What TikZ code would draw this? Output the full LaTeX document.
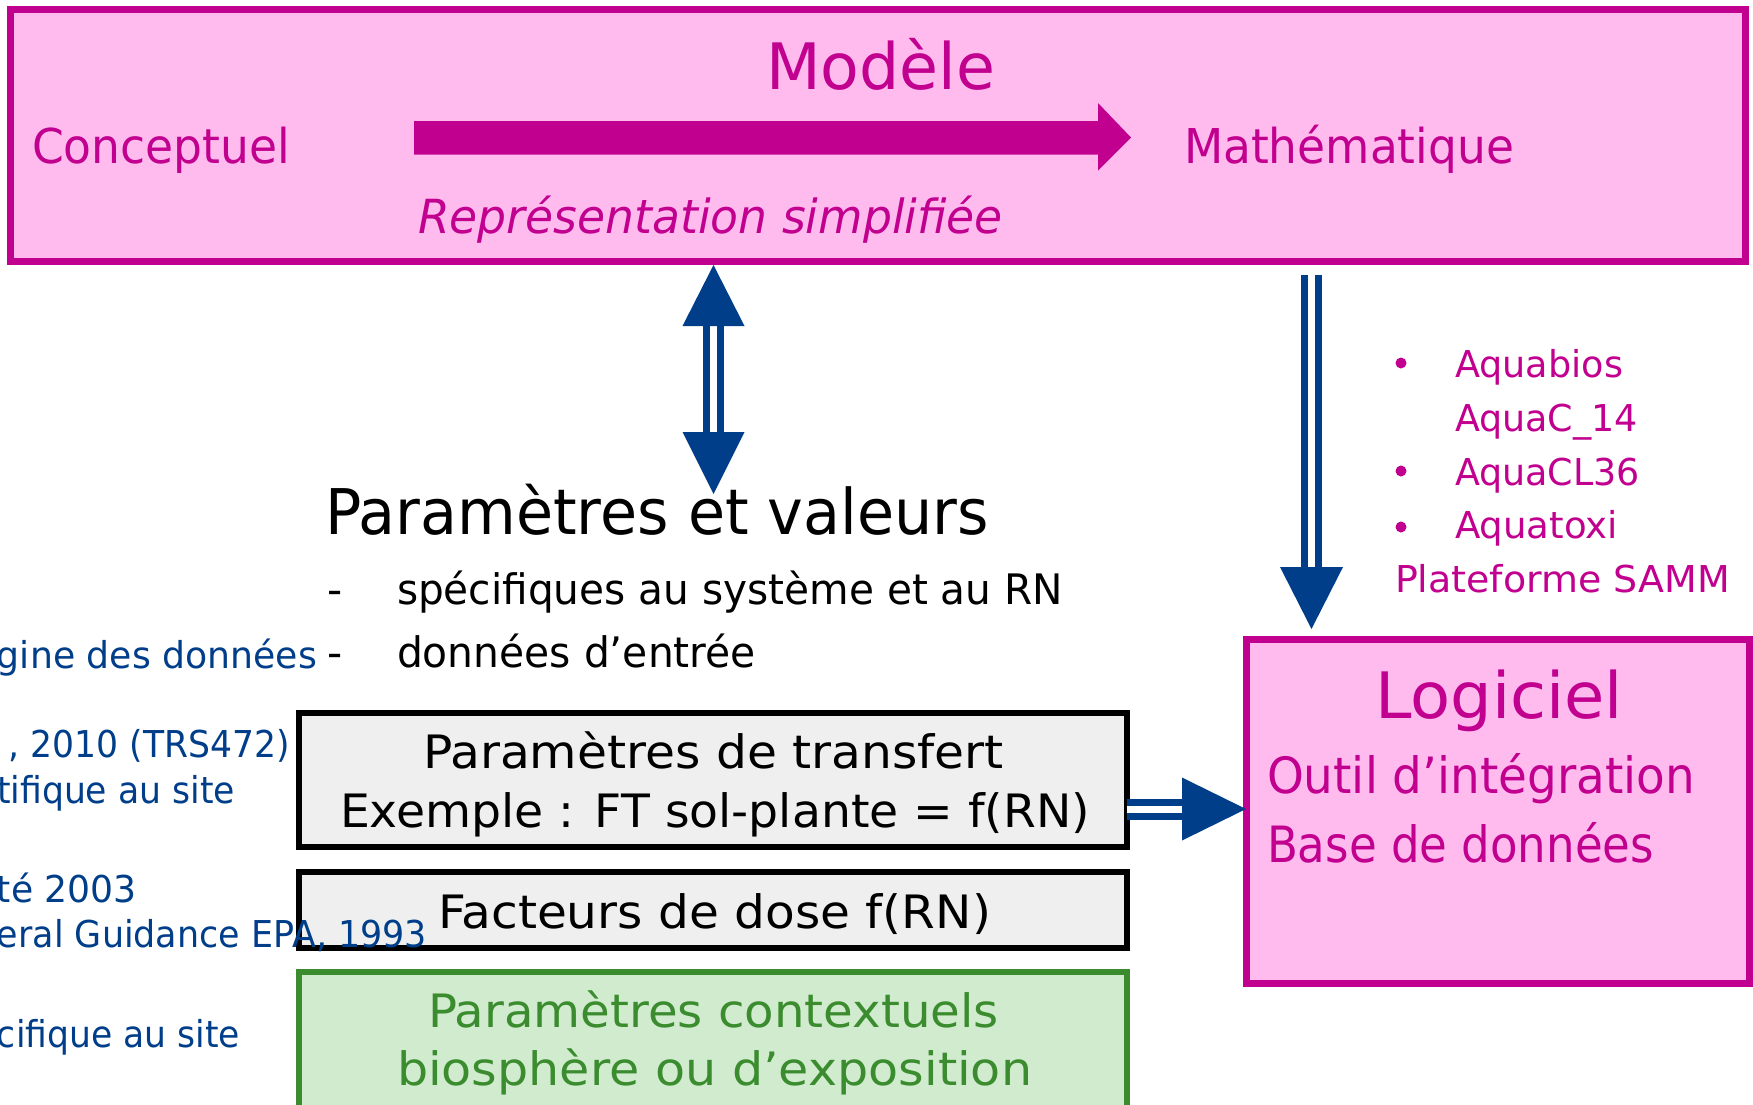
\documentclass[tikz,border=0pt]{standalone}
\usepackage{fontspec}
\setmainfont{DejaVu Sans}
\usepackage{graphicx}
\definecolor{mag}{RGB}{194,0,143}
\definecolor{pinkf}{RGB}{255,187,238}
\definecolor{navy}{RGB}{0,62,138}
\definecolor{grayf}{RGB}{239,239,239}
\definecolor{grn}{RGB}{58,140,46}
\definecolor{grnf}{RGB}{208,235,206}
\newcommand\fitt[3]{\resizebox{#1pt}{\height}{\fontsize{#2pt}{#2pt}\selectfont #3}}
\tikzset{
  txt/.style={inner sep=0pt, outer sep=0pt, anchor=base west},
  rtxt/.style={inner sep=0pt, outer sep=0pt, anchor=base east, text=navy},
  pinkbox/.style={draw=mag, fill=pinkf, line width=7pt, inner sep=0pt},
  graybox/.style={draw=black, fill=grayf, line width=6pt, inner sep=0pt},
  greenbox/.style={draw=grn, fill=grnf, line width=6pt, inner sep=0pt},
  dblshaft/.style={draw=navy, line width=7pt, double=white, double distance=7pt},
}
\begin{document}
\begin{tikzpicture}[x=1pt, y=-1pt]
\clip (0,0) rectangle (1753,1104);
\fill[white] (0,0) rectangle (1753,1104);

% boxes
\node[pinkbox, minimum width=1735pt, minimum height=252pt] (model) at (878,135.5) {};
\node[pinkbox, minimum width=503pt, minimum height=344pt] (logiciel) at (1498,811.5) {};
\node[graybox, minimum width=828pt, minimum height=134pt] (transfert) at (713,780) {};
\node[graybox, minimum width=828pt, minimum height=76pt] (facteurs) at (713,910) {};
\node[greenbox, minimum width=828pt, minimum height=158pt] (contexte) at (713,1051) {};

% top box texts
\node[txt, text=mag] (modele) at (766,89) {\fitt{229}{64}{Modèle}};
\node[txt, text=mag] (conc) at (32,163) {\fitt{258}{48}{Conceptuel}};
\node[txt, text=mag] (math) at (1184,163) {\fitt{330}{48}{Mathématique}};
\node[txt, text=mag] (repr) at (418,233) {\fitt{585}{47}{\itshape Représentation simplifiée}};
\coordinate (ma1) at (414,137.5);
\coordinate (ma2) at (1131,137.5);
\fill[mag] (ma1) ++(0,-16.5) -- ++(684,0) -- ++(0,-18) -- (ma2) -- ++(-33,33) -- ++(0,-16) -- ++(-684,0) -- cycle;

% parameters
\node[txt] (pv) at (325,534) {\fitt{664}{63}{Paramètres et valeurs}};
\node[txt] (d1) at (327,604) {\fontsize{42pt}{42pt}\selectfont -};
\node[txt] (l1) at (397,604) {\fitt{666}{42}{spécifiques au système et au RN}};
\node[txt] (d2) at (327,667) {\fontsize{42pt}{42pt}\selectfont -};
\node[txt] (l2) at (397,667) {\fitt{359}{42}{données d’entrée}};

% left blue texts (cut by the frame)
\node[rtxt] (o1) at (317,668) {\fitt{320}{37}{gine des données}};
\node[rtxt] (o2) at (290,757) {\fitt{281}{37}{, 2010 (TRS472)}};
\node[rtxt] (o3) at (235,803) {\fitt{238}{37}{tifique au site}};
\node[rtxt] (o4) at (137,902) {\fitt{140}{37}{té 2003}};
\node[rtxt] (o5) at (427,947) {\fitt{430}{37}{eral Guidance EPA, 1993}};
\node[rtxt] (o6) at (240,1047) {\fitt{243}{37}{cifique au site}};

% box texts
\node[txt] (t1) at (423,768) {\fitt{581}{46}{Paramètres de transfert}};
\node[txt] (t2) at (340,827) {\fitt{750}{46}{Exemple : FT sol-plante = f(RN)}};
\node[txt] (t3) at (438,928) {\fitt{553}{46}{Facteurs de dose f(RN)}};
\node[txt, text=grn] (t4) at (428,1027) {\fitt{571}{46}{Paramètres contextuels}};
\node[txt, text=grn] (t5) at (397,1085) {\fitt{635}{46}{biosphère ou d’exposition}};

% software list
\fill[mag] (1401,363) circle (5.5);
\fill[mag] (1401,471) circle (5.5);
\fill[mag] (1401,527) circle (5.5);
\node[txt, text=mag] (s1) at (1455,377) {\fitt{168}{37}{Aquabios}};
\node[txt, text=mag] (s2) at (1455,431) {\fitt{183}{37}{AquaC\_14}};
\node[txt, text=mag] (s3) at (1455,485) {\fitt{185}{37}{AquaCL36}};
\node[txt, text=mag] (s4) at (1455,538) {\fitt{163}{37}{Aquatoxi}};
\node[txt, text=mag] (s5) at (1395,592) {\fitt{335}{37}{Plateforme SAMM}};

% logiciel texts
\node[txt, text=mag] (lg) at (1375,718) {\fitt{248}{64}{Logiciel}};
\node[txt, text=mag] (lg1) at (1267,793) {\fitt{428}{50}{Outil d’intégration}};
\node[txt, text=mag] (lg2) at (1267,862) {\fitt{387}{50}{Base de données}};

% connectors
% model <-> parametres
\coordinate (va) at (model.south -| 713.5,0);
\coordinate (vb) at (713.5,494);
\path[dblshaft] (va) ++(0,58) -- (713.5,434);
\fill[navy] (va) -- ++(-31,61) -- ++(62,0) -- cycle;
\fill[navy] (vb) -- ++(-31,-62) -- ++(62,0) -- cycle;
% model -> logiciel
\coordinate (da) at (1311.5,275);
\coordinate (db) at (logiciel.north -| 1311.5,0);
\path[dblshaft] (da) -- (1311.5,568);
\fill[navy] (db) ++(0,-7) -- ++(-31.5,-62) -- ++(63,0) -- cycle;
% transfert -> logiciel
\coordinate (ha) at (transfert.east |- 0,809);
\coordinate (hb) at (logiciel.west |- 0,809);
\path[dblshaft] (ha) ++(-3,0) -- (1183,809);
\fill[navy] (hb) ++(3,0) -- ++(-64,-31.5) -- ++(0,63) -- cycle;
\end{tikzpicture}
\end{document}
